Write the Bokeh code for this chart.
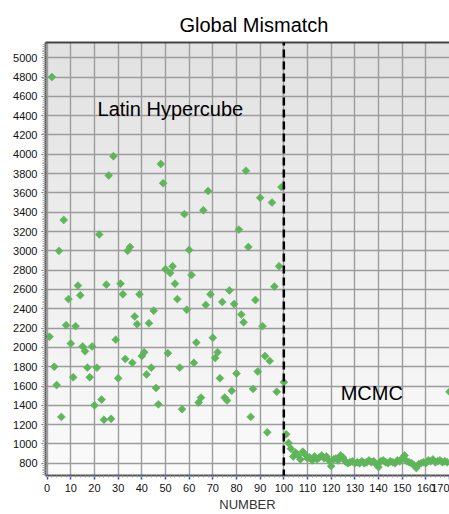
import numpy as np
from bokeh.plotting import figure
from bokeh.models import (Label, Arrow, LinearAxis, SingleIntervalTicker, FixedTicker,
                          ColumnDataSource)
from bokeh.embed import file_html
from bokeh.resources import INLINE

# ---------------- data ----------------
title_text = "Global Mismatch"
x_label = "NUMBER"
lhs_label = "Latin Hypercube"
mcmc_label = "MCMC"

lhs_x = list(range(1, 101))
lhs_y = [2110, 4800, 1800, 1610, 3000, 1280, 3320, 2230, 2500, 2040,
         1690, 2220, 2640, 2540, 2010, 1960, 1790, 1690, 2010, 1400,
         1790, 3170, 1460, 1250, 2650, 3780, 1260, 3980, 2080, 1680,
         2660, 2550, 1880, 3000, 3040, 1840, 2320, 2240, 2550, 1910,
         1950, 1720, 2250, 1790, 2380, 1580, 1410, 3900, 3700, 2810,
         1940, 2770, 2840, 2660, 2500, 1790, 1360, 3380, 2390, 3010,
         2750, 1840, 2050, 1430, 1480, 3420, 2440, 3620, 2550, 2100,
         1890, 1950, 1680, 2470, 1480, 1450, 2590, 1550, 2450, 1730,
         3220, 2340, 2260, 3830, 3040, 1280, 1570, 2490, 1750, 3550,
         2220, 1910, 1120, 1860, 3500, 2630, 1540, 2840, 3660, 1640]

mcmc_x = list(range(101, 171))
mcmc_y = [1100, 1010, 950, 870, 910, 880, 840, 920, 890, 850,
          860, 830, 870, 840, 860, 880, 850, 870, 830, 770,
          840, 850, 830, 880, 860, 820, 800, 810, 820, 800,
          810, 800, 820, 800, 810, 830, 810, 820, 790, 760,
          820, 830, 810, 800, 820, 810, 800, 830, 820, 850,
          880, 820, 810, 800, 780, 750, 790, 800, 810, 800,
          830, 820, 840, 810, 820, 830, 810, 820, 810, 1540]

split_x = 100

# ---------------- figure ----------------
X0, X1 = -0.7, 170.0
Y0, Y1 = 673, 5158
FRAME_LEFT, FRAME_TOP, FRAME_BOTTOM = 45, 42, 476
ppu = (FRAME_BOTTOM - FRAME_TOP) / (Y1 - Y0)
FONT = "Liberation Sans"

p = figure(width=449, height=514, x_range=(X0, X1), y_range=(Y0, Y1),
           output_backend="svg", toolbar_location=None,
           min_border_left=FRAME_LEFT, min_border_right=0,
           min_border_top=FRAME_TOP, min_border_bottom=514 - FRAME_BOTTOM,
           x_axis_location=None, y_axis_location=None)
p.outline_line_color = None
p.background_fill_color = "#f2f2f2"
p.border_fill_color = "white"

# gradient background
n = 200
top_c = np.array([0xe2, 0xe2, 0xe2])
bot_c = np.array([0xfb, 0xfb, 0xfb])
t = np.linspace(0, 1, n)[:, None]  # row 0 = bottom
cols = (bot_c * (1 - t) + top_c * t).astype(np.uint32)
img = np.empty((n, 1), dtype=np.uint32)
view = img.view(dtype=np.uint8).reshape((n, 1, 4))
view[:, 0, 0] = cols[:, 0]
view[:, 0, 1] = cols[:, 1]
view[:, 0, 2] = cols[:, 2]
view[:, 0, 3] = 255
p.image_rgba(image=[img], x=X0, y=Y0, dw=X1 - X0, dh=Y1 - Y0, level="image")

# axes
xaxis = LinearAxis(ticker=SingleIntervalTicker(interval=10, num_minor_ticks=5),
                   axis_label=x_label)
xaxis.axis_line_color = "#555555"
xaxis.axis_line_width = 2
xaxis.major_tick_line_color = "#3344cc"
xaxis.major_tick_line_width = 1.5
xaxis.major_tick_out = 4
xaxis.major_tick_in = 0
xaxis.minor_tick_line_color = "#9a9a9a"
xaxis.minor_tick_out = 2
xaxis.minor_tick_in = 0
xaxis.major_label_text_font = FONT
xaxis.major_label_text_font_size = "11px"
xaxis.major_label_text_color = "#111111"
xaxis.major_label_standoff = 4
xaxis.axis_label_text_font = FONT
xaxis.axis_label_text_font_size = "13px"
xaxis.axis_label_text_font_style = "normal"
xaxis.axis_label_text_color = "#333333"
xaxis.axis_label_standoff = 2
p.add_layout(xaxis, "below")

yaxis = LinearAxis(ticker=SingleIntervalTicker(interval=200, num_minor_ticks=10))
yaxis.axis_line_color = "#555555"
yaxis.axis_line_width = 2
yaxis.major_tick_line_color = "#555555"
yaxis.major_tick_out = 4
yaxis.major_tick_in = 0
yaxis.minor_tick_line_color = "#aaaaaa"
yaxis.minor_tick_out = 3
yaxis.minor_tick_in = 0
yaxis.major_label_text_font = FONT
yaxis.major_label_text_font_size = "11px"
yaxis.major_label_text_color = "#111111"
yaxis.major_label_standoff = 4
p.add_layout(yaxis, "left")

top_axis = LinearAxis(ticker=FixedTicker(ticks=[]), major_tick_out=0, major_tick_in=0,
                      minor_tick_out=0, minor_tick_in=0, axis_line_color="#444444",
                      axis_line_width=2)
p.add_layout(top_axis, "above")

# grid
p.xgrid.ticker = SingleIntervalTicker(interval=10)
p.ygrid.ticker = SingleIntervalTicker(interval=200)
for g in (p.xgrid, p.ygrid):
    g.grid_line_color = "#9c9c9c"
    g.grid_line_width = 1.4

# title
p.title.text = title_text
p.title.align = "left"
p.title.offset = 134
p.title.text_font = FONT
p.title.text_font_size = "20px"
p.title.text_font_style = "normal"
p.title.text_color = "#000000"
p.title.standoff = 13

# points
green = "#5eb55a"
lhs_src = ColumnDataSource(dict(x=lhs_x, y=lhs_y))
mcmc_src = ColumnDataSource(dict(x=mcmc_x, y=mcmc_y))
p.scatter("x", "y", source=lhs_src, marker="square", size=5.6, angle=np.pi / 4,
          fill_color=green, line_color=green, line_alpha=0.6, line_width=1)
p.scatter("x", "y", source=mcmc_src, marker="square", size=5.6, angle=np.pi / 4,
          fill_color=green, line_color=green, line_alpha=0.6, line_width=1)

# dashed divider (extends beyond the frame)
y_above = Y1 + 5 / ppu
y_below = Y0 - 40 / ppu
p.add_layout(Arrow(end=None, x_start=split_x, y_start=y_above, x_end=split_x, y_end=y_below,
                   line_color="black", line_width=2.5, line_dash="8 4"))

# region labels
p.add_layout(Label(x=21.3, y=4466, text=lhs_label, text_font=FONT,
                   text_font_size="20px", text_color="#000000", text_baseline="alphabetic"))
p.add_layout(Label(x=124, y=1531, text=mcmc_label, text_font=FONT,
                   text_font_size="20px", text_color="#000000", text_baseline="alphabetic"))

open("out.html", "w").write(file_html(p, INLINE))
